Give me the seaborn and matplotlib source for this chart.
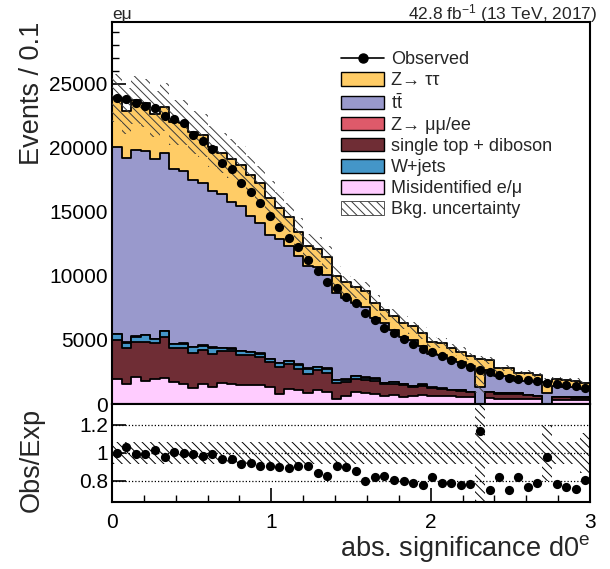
import numpy as np
import pandas as pd
import matplotlib
matplotlib.use("Agg")
import matplotlib.pyplot as plt
from matplotlib.lines import Line2D
from matplotlib.patches import Patch
from matplotlib.ticker import MultipleLocator, FixedLocator, NullLocator, FuncFormatter
import seaborn as sns

# ---------------------------------------------------------------- data
# 50 bins of |d0|/sigma for the electron, 0 .. 3
observed = [23870, 23770, 23460, 23220, 23060, 22490, 22200, 21940, 20970, 20530,
            19870, 18780, 18360, 17260, 16560, 15670, 14650, 13790, 12950, 12220,
            11200, 10390, 9550, 9080, 8330, 7850, 7070, 6550, 5940, 5550,
            5060, 4660, 4300, 4040, 3720, 3410, 3150, 2890, 2650, 2500,
            2230, 2050, 1970, 1840, 1790, 1630, 1530, 1450, 1370, 1270]

misid = [1940, 1580, 2070, 1810, 1960, 2040, 1700, 1560, 1210, 1530,
         1320, 1650, 1560, 1520, 1510, 1500, 1340, 780, 1190, 1060,
         850, 1060, 925, 370, 600, 925, 850, 800, 590, 670,
         530, 590, 670, 590, 590, 590, 560, 530, -700, 430,
         400, 400, 400, 380, 380, -400, 330, 330, 300, 300]

single_top_diboson = [3090, 2820, 2780, 3040, 2760, 3200, 2700, 2840, 2770, 2660,
                      2610, 2490, 2580, 2280, 2350, 2130, 1900, 2110, 1910, 1700,
                      1520, 1570, 1495, 1260, 1110, 995, 990, 960, 940, 910,
                      920, 730, 730, 630, 560, 490, 460, 370, 350, 495,
                      400, 400, 400, 320, 230, 200, 200, 230, 200, 200]

wjets = [420, 370, 390, 520, 340, 440, 280, 300, 470, 370,
         450, 190, 160, 340, 200, 300, 260, 310, 230, 310,
         390, 260, 340, 210, 190, 240, 210, 220, 100, 110,
         80, 50, 110, 50, 40, 30, 40, 25, 20, 35,
         30, 20, 20, 20, 20, 10, 15, 15, 15, 15]

zll = [30, 30, 30, 30, 30, 30, 30, 30, 30, 30,
       30, 30, 30, 30, 30, 30, 30, 30, 30, 30,
       20, 20, 20, 20, 20, 20, 20, 20, 20, 20,
       20, 20, 20, 20, 20, 10, 10, 10, 10, 10,
       10, 10, 10, 10, 10, 10, 10, 10, 10, 10]

ttbar = [14530, 14370, 14550, 14340, 14000, 13900, 13600, 13440, 13020, 12670,
         12200, 11990, 11410, 11260, 10560, 10170, 9620, 9670, 8970, 8480,
         8000, 7770, 7290, 6780, 6380, 5720, 5520, 4680, 4640, 4050,
         3690, 3590, 2970, 2630, 2630, 2370, 2220, 1995, 1640, 1710,
         1310, 1320, 1000, 1090, 1050, 1030, 855, 765, 775, 625]

ztautau = [3860, 3690, 3880, 3710, 3520, 3580, 3670, 3770, 3680, 3690,
           3460, 3210, 3390, 3230, 3250, 3090, 2950, 2420, 2220, 1850,
           1530, 1400, 1370, 1340, 1250, 1200, 1250, 1210, 1060, 1130,
           1090, 1120, 1050, 950, 900, 850, 800, 780, 2220, 720,
           650, 640, 600, 580, 560, 900, 520, 500, 480, 470]

# total background prediction and its relative uncertainty
bkg_total = [23870, 22860, 23700, 23450, 22610, 23190, 21980, 21940, 21180, 20950,
             20070, 19560, 19130, 18660, 17900, 17220, 16100, 15320, 14550, 13430,
             12310, 12080, 11440, 9980, 9260, 9020, 8840, 7890, 7110, 6890,
             6330, 5940, 5550, 4870, 4740, 4340, 4090, 3710, 2290, 3400,
             2700, 2790, 2370, 2420, 2270, 1680, 1960, 1910, 1850, 1580]

bkg_rel_unc = [0.08, 0.08, 0.08, 0.08, 0.08, 0.08, 0.08, 0.08, 0.08, 0.08,
               0.08, 0.08, 0.08, 0.08, 0.08, 0.08, 0.08, 0.08, 0.08, 0.08,
               0.08, 0.08, 0.08, 0.08, 0.08, 0.08, 0.08, 0.08, 0.08, 0.08,
               0.08, 0.08, 0.08, 0.08, 0.08, 0.08, 0.08, 0.08, 0.62, 0.08,
               0.08, 0.08, 0.08, 0.08, 0.08, 0.20, 0.08, 0.08, 0.08, 0.14]

labels = ["Observed", "Z\u2192 \u03c4\u03c4", r"$\mathrm{t\bar{t}}$", "Z\u2192 \u03bc\u03bc/ee",
          "single top + diboson", "W+jets", "Misidentified e/\u03bc", "Bkg. uncertainty"]

# ---------------------------------------------------------------- style
sns.set_style("ticks")
plt.rcParams["font.family"] = ["Liberation Sans", "DejaVu Sans"]
plt.rcParams["mathtext.fontset"] = "custom"
plt.rcParams["mathtext.rm"] = "Liberation Sans"
plt.rcParams["mathtext.it"] = "Liberation Sans:italic"
plt.rcParams["mathtext.bf"] = "Liberation Sans:bold"
plt.rcParams["hatch.linewidth"] = 0.7

C_ZTT, C_TT, C_ZLL = "#FFCC66", "#9999CC", "#DE5A6A"
C_ST, C_W, C_MIS = "#6F2D35", "#4496C8", "#FFCCFF"
HATCH = "\\\\\\\\"

NBINS, XLO, XHI = 50, 0.0, 3.0
edges = np.linspace(XLO, XHI, NBINS + 1)
centers = 0.5 * (edges[1:] + edges[:-1])

W, H = 610, 569
fig = plt.figure(figsize=(W / 100, H / 100), dpi=100)
ax = fig.add_axes([112 / W, 1 - 404 / H, 478 / W, 382 / H])
rax = fig.add_axes([112 / W, 1 - 502 / H, 478 / W, 98 / H])

# ---------------------------------------------------------------- stack
# each cumulative level is filled from zero, drawn top level first
layers = [(misid, C_MIS), (single_top_diboson, C_ST), (wjets, C_W),
          (zll, C_ZLL), (ttbar, C_TT), (ztautau, C_ZTT)]
cumulative = np.cumsum([np.asarray(v, float) for v, _ in layers], axis=0)
for level, (_, color) in zip(cumulative[::-1], layers[::-1]):
    df = pd.DataFrame({"x": centers, "w": level})
    sns.histplot(data=df, x="x", weights="w", bins=NBINS, binrange=(XLO, XHI),
                 element="step", fill=True, facecolor=color, edgecolor="black",
                 linewidth=1.3, alpha=1.0, ax=ax, zorder=2)

tot = np.asarray(bkg_total, float)
unc = np.asarray(bkg_rel_unc, float)
obs = np.asarray(observed, float)


def ext(a):
    return np.append(a, a[-1])


ax.fill_between(edges, ext(tot * (1 - unc)), ext(tot * (1 + unc)), step="post",
                facecolor="none", edgecolor="#3a3a3a", hatch=HATCH, linewidth=0, zorder=5)
sns.scatterplot(x=centers, y=obs, color="black", s=44, linewidth=0, ax=ax,
                zorder=10, legend=False)

# ---------------------------------------------------------------- ratio
ratio = obs / tot
rax.fill_between(edges, ext(1 - unc), ext(1 + unc), step="post", facecolor="none",
                 edgecolor="black", hatch=HATCH, linewidth=0, zorder=2)
for yv in (0.8, 1.0, 1.2):
    rax.axhline(yv, color="black", lw=0.9, ls=(0, (1, 1.6)), zorder=3)
sns.scatterplot(x=centers, y=ratio, color="black", s=44, linewidth=0, ax=rax,
                zorder=10, legend=False)

# ---------------------------------------------------------------- axes
ax.set_xlim(XLO, XHI)
ax.set_ylim(0, 29800)
rax.set_xlim(XLO, XHI)
rax.set_ylim(0.65, 1.35)

ax.yaxis.set_major_locator(MultipleLocator(5000))
ax.yaxis.set_minor_locator(MultipleLocator(1000))
for a in (ax, rax):
    a.xaxis.set_major_locator(MultipleLocator(1))
    a.xaxis.set_minor_locator(MultipleLocator(0.2))
    a.tick_params(axis="both", which="both", direction="in", labelsize=15,
                  top=False, right=False, colors="black")
    a.tick_params(which="major", length=10, width=1.2)
    a.tick_params(which="minor", length=5, width=1.0)
    a.tick_params(axis="y", pad=3)
    a.set_xlabel("")
    a.set_ylabel("")
    for s in a.spines.values():
        s.set_linewidth(1.5)
        s.set_color("black")
        s.set_visible(True)
ax.tick_params(axis="x", labelbottom=False)
rax.tick_params(axis="x", pad=8)
rax.yaxis.set_major_locator(FixedLocator([0.8, 1.0, 1.2]))
rax.yaxis.set_minor_locator(NullLocator())
rax.yaxis.set_major_formatter(FuncFormatter(lambda v, p: f"{v:g}"))

# ---------------------------------------------------------------- text
fig.text(32 / W, 1 - 22 / H, "Events / 0.1", rotation=90, ha="center", va="top", fontsize=19.5)
fig.text(32 / W, 1 - 460 / H, "Obs/Exp", rotation=90, ha="center", va="center", fontsize=19.5)
fig.text(590 / W, 1 - 548 / H, r"abs. significance d0$^{\mathrm{e}}$", ha="right", va="center",
         fontsize=19.5)
fig.text(112 / W, 1 - 14 / H, "e\u03bc", ha="left", va="center", fontsize=12.5)
fig.text(597 / W, 1 - 14 / H, "42.8 fb$^{-1}$ (13 TeV, 2017)", ha="right", va="center", fontsize=12.5)

handles = [Line2D([], [], color="black", marker="o", markersize=6.5, lw=1.2),
           Patch(facecolor=C_ZTT, edgecolor="black", lw=1.0),
           Patch(facecolor=C_TT, edgecolor="black", lw=1.0),
           Patch(facecolor=C_ZLL, edgecolor="black", lw=1.0),
           Patch(facecolor=C_ST, edgecolor="black", lw=1.0),
           Patch(facecolor=C_W, edgecolor="black", lw=1.0),
           Patch(facecolor=C_MIS, edgecolor="black", lw=1.0),
           Patch(facecolor="white", edgecolor="#3a3a3a", hatch=HATCH, lw=0.6)]
fig.legend(handles, labels, loc="upper left", bbox_to_anchor=(341 / W, 1 - 51 / H),
           frameon=False, fontsize=13, handlelength=2.4, handleheight=0.79,
           handletextpad=0.37, labelspacing=0.22, borderpad=0, borderaxespad=0)

fig.savefig("out.png", dpi=100)
